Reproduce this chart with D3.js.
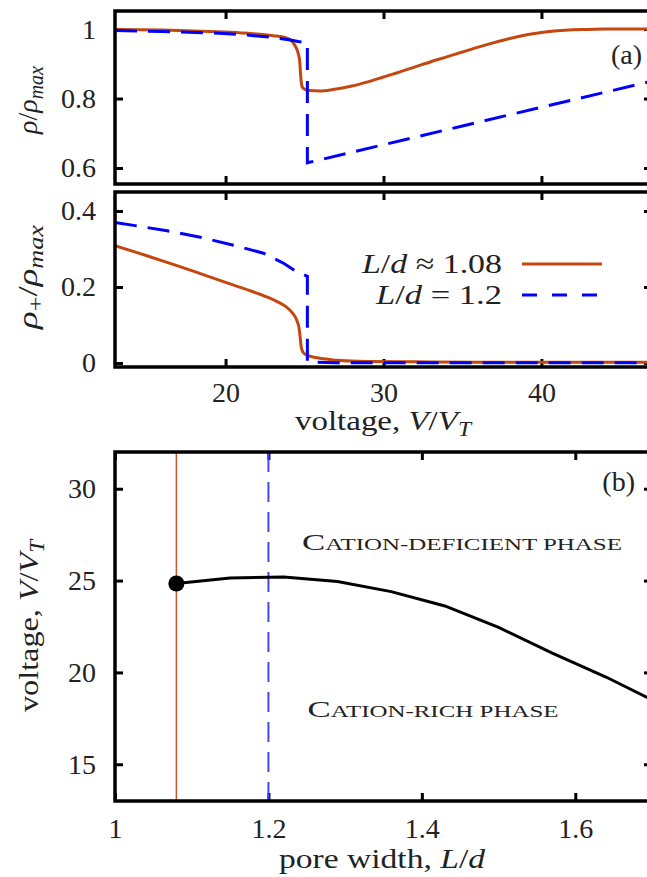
<!DOCTYPE html>
<html>
<head>
<meta charset="utf-8">
<script src="https://cdn.jsdelivr.net/npm/d3@7"></script>
<style>
  body { margin: 0; background: #fff; }
  svg text { font-family: "Liberation Serif", "Times New Roman", serif; fill: #222; }
</style>
</head>
<body>
<svg id="chart" width="647" height="877"></svg>
<script>
// ---- data ----
// panel (a), top: total density rho/rho_max vs voltage
const rhoV108 = [13, 16, 19, 21, 23, 23.8, 24.1, 24.4, 24.6, 24.7, 24.75, 24.8, 24.85, 25.0, 25.3, 26.0, 26.8, 28, 29, 30, 31, 32, 33, 34, 35, 36, 37, 38, 39, 40, 41, 42, 43, 44, 45, 47];
const rho108  = [0.999, 0.997, 0.993, 0.989, 0.981, 0.975, 0.970, 0.952, 0.930, 0.905, 0.870, 0.845, 0.834, 0.827, 0.823, 0.822, 0.826, 0.836, 0.848, 0.862, 0.876, 0.891, 0.906, 0.920, 0.934, 0.948, 0.961, 0.973, 0.983, 0.990, 0.995, 0.998, 0.999, 1.0, 1.0, 1.0];
const rhoV12  = [13, 16, 19, 21, 23, 24, 24.6, 25.18, 25.18, 30, 35, 40, 47];
const rho12   = [0.996, 0.993, 0.989, 0.984, 0.976, 0.969, 0.964, 0.960, 0.615, 0.667, 0.721, 0.775, 0.850];

// panel (a), bottom: cation density rho_+/rho_max vs voltage
const catV108 = [13, 14.5, 16.3, 18, 20, 21.5, 22.6, 23.3, 23.8, 24.1, 24.4, 24.55, 24.65, 24.72, 24.78, 24.85, 24.95, 25.2, 25.6, 26.2, 26.8, 28, 29, 32, 36, 40, 47];
const cat108  = [0.309, 0.289, 0.265, 0.241, 0.212, 0.191, 0.174, 0.161, 0.149, 0.138, 0.122, 0.108, 0.093, 0.070, 0.045, 0.033, 0.026, 0.020, 0.015, 0.011, 0.008, 0.005, 0.004, 0.003, 0.002, 0.002, 0.002];
const catV12  = [13, 14.5, 16.3, 18.4, 20.5, 22.4, 23.7, 24.5, 25.18, 25.18, 25.6, 27, 30, 40, 47];
const cat12   = [0.370, 0.360, 0.348, 0.331, 0.310, 0.289, 0.262, 0.240, 0.228, 0.004, 0.002, 0.001, 0.001, 0.001, 0.001];

// panel (b): transition voltage vs pore width
const poreW   = [1.08, 1.15, 1.22, 1.29, 1.36, 1.43, 1.50, 1.57, 1.64, 1.71];
const transV  = [24.84, 25.14, 25.2, 24.95, 24.4, 23.62, 22.45, 21.05, 19.75, 18.3];
const markW = [1.08, 1.2];

const voltTicks = [20, 30, 40];
const rhoTicks = [0.6, 0.8, 1];
const catTicks = [0, 0.2, 0.4];
const widthTicks = [1, 1.2, 1.4, 1.6];
const transTicks = [15, 20, 25, 30];

const ORANGE = "#c4470f";
const BLUE = "#0000ff";

const svg = d3.select("#chart");
const FS = 28;

// scales
const xV = d3.scaleLinear().domain([13, 47]).range([115, 652]);
const yRho = d3.scaleLinear().domain([0.554, 1.052]).range([184, 11]);
const yCat = d3.scaleLinear().domain([-0.0105, 0.45]).range([367, 192]);
const xW = d3.scaleLinear().domain([1, 1.7]).range([115, 652]);
const yT = d3.scaleLinear().domain([13, 32]).range([801, 452]);

const zip = (a, b) => a.map((v, i) => [v, b[i]]);

function panel(id, x, y, xt, yt, xlabels, pad) {
  const [x0, x1] = x.range(), [y1, y0] = y.range();
  svg.append("clipPath").attr("id", id)
    .append("rect").attr("x", x0).attr("y", y0).attr("width", x1 - x0).attr("height", y1 - y0);
  const g = svg.append("g");
  const fmt = d => String(d);
  const axes = [
    [d3.axisBottom(x).tickValues(xt).tickFormat(xlabels ? fmt : "").tickPadding(pad), `translate(0,${y1})`],
    [d3.axisTop(x).tickValues(xt).tickFormat(""), `translate(0,${y0})`],
    [d3.axisLeft(y).tickValues(yt).tickFormat(fmt).tickPadding(19), `translate(${x0},0)`],
    [d3.axisRight(y).tickValues(yt).tickFormat(""), `translate(${x1},0)`]
  ];
  axes.forEach(([ax, tr]) => {
    const a = g.append("g").attr("transform", tr)
      .call(ax.tickSize(-8));
    a.select(".domain").remove();
    a.selectAll("line").attr("stroke", "#000").attr("stroke-width", 3);
    a.selectAll("text").attr("font-size", FS).attr("font-family", "Liberation Serif").attr("fill", "#222");
  });
  return { g, clip: `url(#${id})`, frame: () => svg.append("rect")
    .attr("x", x0).attr("y", y0).attr("width", x1 - x0).attr("height", y1 - y0)
    .attr("fill", "none").attr("stroke", "#000").attr("stroke-width", 3.5) };
}

function curve(p, data, x, y, color, dash, smooth) {
  svg.append("path")
    .datum(data)
    .attr("clip-path", p.clip)
    .attr("fill", "none")
    .attr("stroke", color)
    .attr("stroke-width", 3)
    .attr("stroke-dasharray", dash || null)
    .attr("d", d3.line().curve(smooth ? d3.curveMonotoneX : d3.curveLinear)
      .x(d => x(d[0])).y(d => y(d[1])));
}

// ---- top: rho ----
const pA = panel("clipA", xV, yRho, voltTicks, rhoTicks, false, 18);
curve(pA, zip(rhoV108, rho108), xV, yRho, ORANGE, null, true);
curve(pA, zip(rhoV12, rho12), xV, yRho, BLUE, "22,11");
pA.frame();

// ---- middle: rho_+ ----
const pC = panel("clipC", xV, yCat, voltTicks, catTicks, true, 15);
curve(pC, zip(catV108, cat108), xV, yCat, ORANGE, null, true);
curve(pC, zip(catV12, cat12), xV, yCat, BLUE, "22,11");
pC.frame();

// ---- bottom: phase diagram ----
const pB = panel("clipB", xW, yT, widthTicks, transTicks, true, 17);
svg.append("line").attr("clip-path", pB.clip)
  .attr("x1", xW(markW[0])).attr("x2", xW(markW[0])).attr("y1", yT(32)).attr("y2", yT(13))
  .attr("stroke", "#c8582a").attr("stroke-width", 1.5);
svg.append("line").attr("clip-path", pB.clip)
  .attr("x1", xW(markW[1])).attr("x2", xW(markW[1])).attr("y1", yT(32)).attr("y2", yT(13))
  .attr("stroke", "#4646ff").attr("stroke-width", 2).attr("stroke-dasharray", "20,10");
curve(pB, zip(poreW, transV), xW, yT, "#000");
svg.append("circle").attr("cx", xW(poreW[0])).attr("cy", yT(transV[0])).attr("r", 8).attr("fill", "#000");
pB.frame();

// ---- text ----
function mathText(sel, parts, len) {
  parts.forEach(p => {
    const t = sel.append("tspan").text(p.t);
    if (p.i) t.attr("font-style", "italic");
    if (p.fs) t.attr("font-size", p.fs);
    if (p.dy) t.attr("dy", p.dy);
  });
  if (len) sel.attr("textLength", len).attr("lengthAdjust", "spacingAndGlyphs");
  return sel;
}

function yTitle(cx, cy, parts, len) {
  const t = svg.append("text").attr("transform", `translate(${cx},${cy}) rotate(-90)`)
    .attr("text-anchor", "middle").attr("font-size", FS);
  mathText(t, parts, len);
}

yTitle(37, 100, [{ t: "ρ", i: 1 }, { t: "/" }, { t: "ρ", i: 1 }, { t: "max", i: 1, fs: 20, dy: 6 }]);
yTitle(37, 277, [{ t: "ρ", i: 1 }, { t: "+", fs: 20, dy: 6 }, { t: "/", dy: -6 }, { t: "ρ", i: 1 }, { t: "max", i: 1, fs: 20, dy: 6 }], 104);
yTitle(38, 626, [{ t: "voltage, " }, { t: "V", i: 1 }, { t: "/" }, { t: "V", i: 1 }, { t: "T", i: 1, fs: 20, dy: 6 }], 172);

mathText(svg.append("text").attr("x", 383).attr("y", 430).attr("text-anchor", "middle").attr("font-size", FS),
  [{ t: "voltage, " }, { t: "V", i: 1 }, { t: "/" }, { t: "V", i: 1 }, { t: "T", i: 1, fs: 20, dy: 6 }], 176);
mathText(svg.append("text").attr("x", 382).attr("y", 868).attr("text-anchor", "middle").attr("font-size", FS),
  [{ t: "pore width, " }, { t: "L", i: 1 }, { t: "/" }, { t: "d", i: 1 }], 206);

// legend
const legend = [
  { parts: [{ t: "L", i: 1 }, { t: "/" }, { t: "d", i: 1 }, { t: " ≈ 1.08" }], color: ORANGE, dash: null, y: 264, len: 140 },
  { parts: [{ t: "L", i: 1 }, { t: "/" }, { t: "d", i: 1 }, { t: " = 1.2" }], color: BLUE, dash: "15,15", y: 295, len: 126 }
];
legend.forEach(l => {
  mathText(svg.append("text").attr("x", 502).attr("y", l.y + 9).attr("text-anchor", "end").attr("font-size", FS), l.parts, l.len);
  svg.append("line").attr("x1", 522).attr("x2", 602).attr("y1", l.y).attr("y2", l.y)
    .attr("stroke", l.color).attr("stroke-width", 3).attr("stroke-dasharray", l.dash);
});

svg.append("text").attr("x", 642).attr("y", 64).attr("text-anchor", "end").attr("font-size", FS).text("(a)");
svg.append("text").attr("x", 635).attr("y", 491).attr("text-anchor", "end").attr("font-size", FS).text("(b)");

// small-caps phase labels
function smallCaps(x, y, words, len) {
  const t = svg.append("text").attr("x", x).attr("y", y).attr("text-anchor", "middle");
  t.append("tspan").attr("font-size", 23).text(words[0]);
  t.append("tspan").attr("font-size", 16.5).text(words[1]);
  t.attr("textLength", len).attr("lengthAdjust", "spacingAndGlyphs");
}
smallCaps(462, 550, ["C", "ATION-DEFICIENT PHASE"], 320);
smallCaps(433, 717, ["C", "ATION-RICH PHASE"], 251);
</script>
</body>
</html>
